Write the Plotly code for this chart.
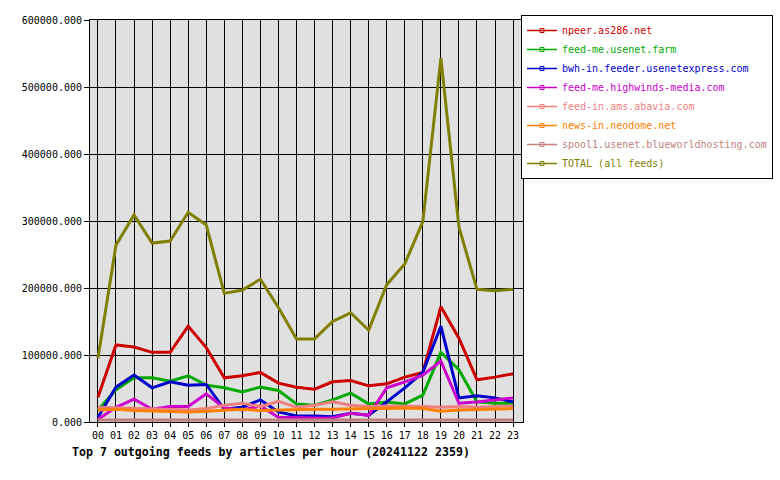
import plotly.graph_objects as go

hours = ["00","01","02","03","04","05","06","07","08","09","10","11",
         "12","13","14","15","16","17","18","19","20","21","22","23"]

npeer = [37000,115000,112000,104000,104000,143000,111000,66000,69000,74000,58000,52000,
         49000,60000,62000,54000,57000,67000,74000,172000,125000,63000,67000,72000]
feedme_farm = [18000,48000,66000,66000,61000,69000,55000,51000,45000,52000,47000,27000,
               25000,33000,43000,27000,30000,27000,40000,104000,78000,30000,28000,28000]
bwh = [7000,52000,70000,51000,60000,55000,56000,19000,22000,33000,15000,9000,
       9000,8000,13000,10000,30000,51000,74000,143000,36000,39000,36000,30000]
highwinds = [4000,22000,34000,19000,23000,23000,42000,21000,18000,24000,7000,6000,
             6000,6000,13000,10000,51000,60000,70000,91000,28000,30000,33000,36000]
abavia = [22000,21000,20000,19000,18000,18000,20000,25000,28000,23000,31000,22000,
          25000,30000,25000,23000,24000,24000,23000,22000,23000,22000,23000,24000]
neodome = [18000,19000,17000,16000,15000,15000,16000,18000,19000,17000,18000,19000,
           19000,19000,20000,20000,20000,21000,20000,16000,18000,19000,19000,20000]
spool1 = [3000]*24
total = [95000,264000,309000,267000,270000,313000,294000,192000,197000,213000,171000,124000,
         124000,150000,163000,137000,205000,236000,299000,543000,291000,198000,196000,198000]

names = ["npeer.as286.net", "feed-me.usenet.farm", "bwh-in.feeder.usenetexpress.com",
         "feed-me.highwinds-media.com", "feed-in.ams.abavia.com", "news-in.neodome.net",
         "spool1.usenet.blueworldhosting.com", "TOTAL (all feeds)"]
series = [npeer, feedme_farm, bwh, highwinds, abavia, neodome, spool1, total]
colors = ["#CC0000", "#00AA00", "#0000CC", "#CC00CC", "#F08080", "#FF8000", "#C08080", "#808000"]

y_ticks = [0, 100000, 200000, 300000, 400000, 500000, 600000]

FONT = "DejaVu Sans Mono"
fig = go.Figure()
xs = list(range(len(hours)))
for name, vals, col in zip(names, series, colors):
    fig.add_trace(go.Scatter(x=xs, y=vals, mode="lines", line=dict(color=col, width=3),
                             showlegend=False, hoverinfo="skip"))
for name, col in zip(names, colors):
    fig.add_trace(go.Scatter(x=[None], y=[None], mode="lines+markers",
                             line=dict(color=col, width=1.5),
                             marker=dict(symbol="square-open", size=4, color=col, line=dict(width=1, color=col)),
                             name=f"<span style='color:{col}'>{name}</span>", showlegend=True))

fig.update_layout(
    width=780, height=480,
    margin=dict(l=90, r=257, t=20, b=58, autoexpand=False),
    paper_bgcolor="white", plot_bgcolor="#E0E0E0",
    font=dict(family=FONT, size=10, color="black"),
    showlegend=True,
    legend=dict(x=521/780, y=1-15/480, xref="container", yref="container",
                xanchor="left", yanchor="top",
                bgcolor="white", bordercolor="black", borderwidth=1,
                font=dict(family=FONT, size=10), itemwidth=30,
                tracegroupgap=0),
    title=dict(text="<b>Top 7 outgoing feeds by articles per hour (20241122 2359)</b>",
               x=72/780, xanchor="left", y=1-452/480, yanchor="middle", xref="container", yref="container",
               font=dict(family=FONT, size=11.6, color="black")),
    xaxis=dict(range=[-0.44, 23.55], tickmode="array", tickvals=xs, ticktext=hours,
               showgrid=True, gridcolor="black", gridwidth=1,
               showline=True, linecolor="black", linewidth=1, mirror=True,
               ticks="outside", ticklen=4, tickcolor="black", zeroline=False,
               tickfont=dict(family=FONT, size=10)),
    yaxis=dict(range=[0, 600000], tickmode="array", tickvals=y_ticks,
               ticktext=[f"{v:.3f}" for v in y_ticks],
               showgrid=True, gridcolor="black", gridwidth=1,
               showline=True, linecolor="black", linewidth=1, mirror=True,
               ticks="outside", ticklen=5, tickcolor="black", zeroline=False,
               tickfont=dict(family=FONT, size=10)),
)

fig.write_html("out.html", config={"displayModeBar": False})
